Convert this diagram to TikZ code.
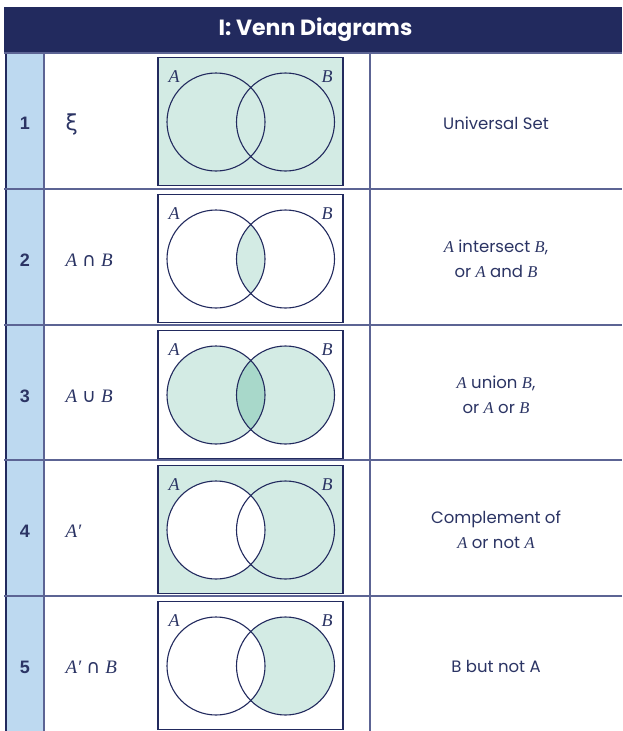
\documentclass[tikz,border=0pt]{standalone}
\usepackage{fontspec}
\setmainfont{Poppins}
\newfontfamily\vserif{Liberation Serif}
\newfontfamily\numfont{Liberation Sans}
\newfontfamily\symfont{DejaVu Sans}
\newcommand\va[1]{{\vserif\itshape #1}}
\newcommand\vsym[1]{{\symfont #1}}
\newcommand\vprime{{\vserif\itshape ′}}
\definecolor{navy}{HTML}{222A5E}
\definecolor{ink}{HTML}{2B3464}
\definecolor{gridline}{HTML}{5C6494}
\definecolor{vgreen}{HTML}{D3EBE4}
\definecolor{vgreendark}{HTML}{A8D8CA}
\definecolor{numblue}{HTML}{BDD9F0}
\tikzset{
  x=1pt, y=-1pt,
  vbox/.style={draw=navy, line width=1.1pt},
  vcirc/.style={draw=navy, line width=1.1pt},
  numtxt/.style={text=ink, font=\numfont\bfseries\fontsize{18}{20}\selectfont},
  symtxt/.style={text=ink, anchor=west, font=\fontsize{19}{21}\selectfont},
  desctxt/.style={text=ink, align=center, font=\fontsize{16.5}{25}\selectfont},
  setlbl/.style={text=ink, font=\vserif\itshape\fontsize{18}{20}\selectfont, inner sep=0pt},
}
% Venn panel whose top edge sits at #1; the fill pattern is drawn beforehand
\newcommand\vennframe[2]{%
  \draw[vbox] (158,#1+5.5) rectangle (343,#1+133.5);
  \draw[vcirc] (216,#1+70) circle (49);
  \draw[vcirc] (285.5,#1+70) circle (49);
  \node[setlbl] (la#2) at (174,#1+25) {A};
  \node[setlbl] (lb#2) at (327,#1+25) {B};
}
\begin{document}
\begin{tikzpicture}
\useasboundingbox (0,0) rectangle (622,731);
\fill[white] (0,0) rectangle (622,731);

% header band
\fill[navy] (4,7) rectangle (622,52);
\node[text=white, font=\bfseries\fontsize{22}{24}\selectfont] (title) at (315.5,30) {I: Venn Diagrams};

% number column and grid
\fill[numblue] (6,52) rectangle (44,731);
\draw[navy, line width=2.4pt] (6,52) -- (6,731);
\draw[gridline, line width=1.2pt] (4,53) -- (622,53);
\foreach \t in {189,325,460,596}{
  \draw[gridline, line width=1.4pt] (4,\t) -- (622,\t);
}
\draw[gridline, line width=1.3pt] (44,52) -- (44,731);
\draw[gridline, line width=1.3pt] (370,52) -- (370,731);

% row 1: universal set
\fill[vgreen] (158,57.5) rectangle (343,185.5);
\vennframe{52}{1}
\node[numtxt] (n1) at (25,123) {1};
\node[symtxt, font=\symfont\fontsize{22}{24}\selectfont] (s1) at (62,124) {ξ};
\node[desctxt] (d1) at (496,123) {Universal Set};

% row 2: intersection
\begin{scope}
  \clip (216,259) circle (49);
  \fill[vgreen] (285.5,259) circle (49);
\end{scope}
\vennframe{189}{2}
\node[numtxt] (n2) at (25,260) {2};
\node[symtxt] (s2) at (62,260) {\va{A} \vsym{∩} \va{B}};
\node[desctxt] (d2) at (496,259) {\va{A} intersect \va{B},\\or \va{A} and \va{B}};

% row 3: union
\fill[vgreen] (216,395) circle (49);
\fill[vgreen] (285.5,395) circle (49);
\begin{scope}
  \clip (216,395) circle (49);
  \fill[vgreendark] (285.5,395) circle (49);
\end{scope}
\vennframe{325}{3}
\node[numtxt] (n3) at (25,396) {3};
\node[symtxt] (s3) at (62,396) {\va{A} \vsym{∪} \va{B}};
\node[desctxt] (d3) at (496,395) {\va{A} union \va{B},\\or \va{A} or \va{B}};

% row 4: complement of A
\fill[vgreen] (158,465.5) rectangle (343,593.5);
\fill[white] (216,530) circle (49);
\vennframe{460}{4}
\node[numtxt] (n4) at (25,531) {4};
\node[symtxt] (s4) at (62,531) {\va{A}\vprime};
\node[desctxt] (d4) at (496,530) {Complement of\\\va{A} or not \va{A}};

% row 5: B but not A
\fill[vgreen] (285.5,666) circle (49);
\fill[white] (216,666) circle (49);
\vennframe{596}{5}
\node[numtxt] (n5) at (25,667) {5};
\node[symtxt] (s5) at (62,667) {\va{A}\vprime\ \vsym{∩} \va{B}};
\node[desctxt] (d5) at (496,666) {B but not A};
\end{tikzpicture}
\end{document}
